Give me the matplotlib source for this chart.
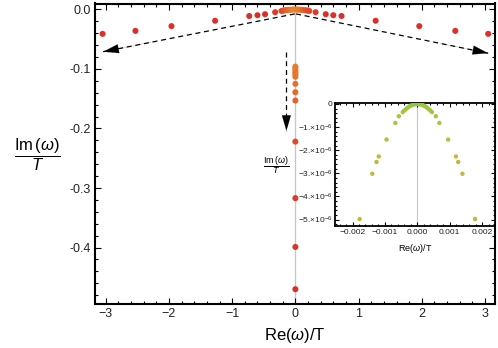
"""Quasinormal mode spectrum Im(w)/T vs Re(w)/T with a zoomed inset near the origin."""
import matplotlib

matplotlib.use("Agg")
import matplotlib.pyplot as plt
import numpy as np
from matplotlib.colors import LinearSegmentedColormap, Normalize
from matplotlib.ticker import MultipleLocator, FixedLocator, FixedFormatter

plt.rcParams["font.family"] = ["Liberation Sans", "DejaVu Sans"]
plt.rcParams["mathtext.fontset"] = "custom"
plt.rcParams["mathtext.rm"] = "Liberation Sans"
plt.rcParams["mathtext.it"] = "Liberation Sans:italic"

# --- data (units of T) ---
# outer arc of modes near the real axis
arc_re = [-3.05, -2.53, -1.96, -1.27, -0.73, -0.60, -0.48, -0.32,
          0.32, 0.48, 0.60, 0.73, 1.27, 1.96, 2.53, 3.05]
arc_im = [-0.041, -0.036, -0.028, -0.019, -0.011, -0.0097, -0.008, -0.0046,
          -0.0046, -0.008, -0.0097, -0.011, -0.019, -0.028, -0.036, -0.041]

# dense cluster close to the origin
core_re = [-0.22, -0.19, -0.16, -0.13, -0.10, -0.07, -0.04, -0.015,
           0.015, 0.04, 0.07, 0.10, 0.13, 0.16, 0.19, 0.22]
core_im = [-0.0025, -0.0019, -0.0014, -0.0010, -0.0007, -0.0004, -0.0002, -0.0001,
           -0.0001, -0.0002, -0.0004, -0.0007, -0.0010, -0.0014, -0.0019, -0.0025]

# purely damped modes on the imaginary axis
axis_im = [-0.096, -0.099, -0.1025, -0.106, -0.109, -0.113,
           -0.125, -0.139, -0.153, -0.222, -0.317, -0.399, -0.470]

# inset: modes very close to the origin
inset_re = [-0.00178, -0.00139, -0.00126, -0.00119, -0.00095, -0.00068, -0.00057,
            -0.00045, -0.0004, -0.00035, -0.0003, -0.00025, -0.0002, -0.00015, -0.0001, -0.00005,
            0.0,
            0.00005, 0.0001, 0.00015, 0.0002, 0.00025, 0.0003, 0.00035, 0.0004, 0.00045,
            0.00057, 0.00068, 0.00095, 0.00119, 0.00126, 0.00139, 0.00178]
inset_im_e6 = [-4.98, -3.02, -2.51, -2.27, -1.54, -0.82, -0.53,
               -0.35, -0.28, -0.22, -0.16, -0.11, -0.07, -0.04, -0.02, -0.005,
               0.0,
               -0.005, -0.02, -0.04, -0.07, -0.11, -0.16, -0.22, -0.28, -0.35,
               -0.53, -0.82, -1.54, -2.27, -2.51, -3.02, -4.98]

inset_yticks_e6 = [0, -1, -2, -3, -4, -5]
inset_xticks = [-0.002, -0.001, 0.0, 0.001, 0.002]

# colour by log10 |w|: green near the origin through yellow and orange to red
cmap = LinearSegmentedColormap.from_list(
    "modes",
    [(0.0, "#8fc846"), (0.19, "#a8c440"), (0.38, "#cdb43b"), (0.76, "#e8902f"),
     (0.85, "#e86a2c"), (0.92, "#e2402a"), (1.0, "#dd2e29")],
)
norm = Normalize(vmin=-4.0, vmax=-0.3)


def mode_colors(re, im):
    mag = np.hypot(np.asarray(re, dtype=float), np.asarray(im, dtype=float))
    return cmap(norm(np.log10(np.maximum(mag, 1e-5))))


def dashed_arrow(ax, start, end):
    ax.plot([start[0], end[0]], [start[1], end[1]], ls=(0, (4, 3)), color="k", lw=0.9, zorder=3)
    back = (end[0] - 0.25 * (end[0] - start[0]), end[1] - 0.25 * (end[1] - start[1]))
    ax.annotate("", xy=end, xytext=back,
                arrowprops=dict(arrowstyle="-|>,head_length=1.1,head_width=0.32",
                                color="k", lw=0.1, shrinkA=0, shrinkB=0), zorder=4)


def style_box(ax, lw, major, minor, labelsize, pad):
    for sp in ax.spines.values():
        sp.set_linewidth(lw)
    ax.tick_params(which="both", direction="in", top=True, right=True,
                   width=0.8, colors="k", labelcolor="#222222")
    ax.tick_params(which="major", length=major, labelsize=labelsize, pad=pad)
    ax.tick_params(which="minor", length=minor)


fig = plt.figure(figsize=(4.98, 3.48), dpi=100)
ax = fig.add_axes([95 / 498, 44.5 / 348, 399.5 / 498, 300 / 348])

ax.axvline(0, color="#c8c8c8", lw=1.0, zorder=0)
ax.scatter(arc_re, arc_im, s=19, c=mode_colors(arc_re, arc_im), lw=0, zorder=5)
ax.scatter(core_re, core_im, s=19, c=mode_colors(core_re, np.array(core_im) - 0.08),
           lw=0, zorder=5)
axis_re = np.zeros(len(axis_im))
ax.scatter(axis_re, axis_im, s=19, c=mode_colors(axis_re, axis_im), lw=0, zorder=5)

dashed_arrow(ax, (-0.01, -0.0075), (-3.04, -0.071))
dashed_arrow(ax, (0.01, -0.0075), (3.05, -0.0735))
dashed_arrow(ax, (-0.142, -0.071), (-0.142, -0.204))

ax.set_xlim(-3.17, 3.15)
ax.set_ylim(-0.494, 0.010)
ax.xaxis.set_major_locator(MultipleLocator(1))
ax.xaxis.set_minor_locator(MultipleLocator(0.2))
ax.yaxis.set_major_locator(MultipleLocator(0.1))
ax.yaxis.set_minor_locator(MultipleLocator(0.02))
ax.yaxis.set_major_formatter(matplotlib.ticker.FormatStrFormatter("%.1f"))
style_box(ax, 1.5, 4.5, 2.5, 9, 3)

ax.set_xlabel(r"Re($\omega$)/T", fontsize=12, va="center")
ax.xaxis.set_label_coords(0.5, -0.108)
ax.set_ylabel(r"$\dfrac{\mathrm{Im}\,(\omega)}{T}$", fontsize=12, rotation=0,
              va="center", ha="center")
ax.yaxis.set_label_coords(-0.143, 0.495)

# --- inset ---
axi = fig.add_axes([335 / 498, 122 / 348, 159.5 / 498, 122.7 / 348])
axi.axvline(0, color="#c8c8c8", lw=0.8, zorder=0)
inset_im = np.array(inset_im_e6) * 1e-6
axi.scatter(inset_re, inset_im, s=10, lw=0, zorder=5,
            c=mode_colors(inset_re, np.array(inset_im_e6) * 1e-4))
axi.set_xlim(-0.00254, 0.00238)
axi.set_ylim(-5.28e-6, 0.03e-6)
axi.xaxis.set_major_locator(FixedLocator(inset_xticks))
axi.xaxis.set_major_formatter(FixedFormatter([f"{v:.3f}".replace("-", "\u2212") for v in inset_xticks]))
axi.xaxis.set_minor_locator(MultipleLocator(0.0002))
axi.yaxis.set_major_locator(FixedLocator([v * 1e-6 for v in inset_yticks_e6]))
axi.yaxis.set_major_formatter(FixedFormatter(
    ["0" if v == 0 else f"\u2212{abs(v)}.\u00d710$^{{-6}}$" for v in inset_yticks_e6]))
axi.yaxis.set_minor_locator(MultipleLocator(0.2e-6))
style_box(axi, 1.3, 3, 1.5, 6, 2)

axi.set_xlabel(r"Re($\omega$)/T", fontsize=6.5, va="center")
axi.xaxis.set_label_coords(0.5, -0.187)
axi.set_ylabel(r"$\dfrac{\mathrm{Im}\,(\omega)}{T}$", fontsize=6.5, rotation=0,
               va="center", ha="center")
axi.yaxis.set_label_coords(-0.367, 0.5)

fig.savefig("out.png", dpi=100)
